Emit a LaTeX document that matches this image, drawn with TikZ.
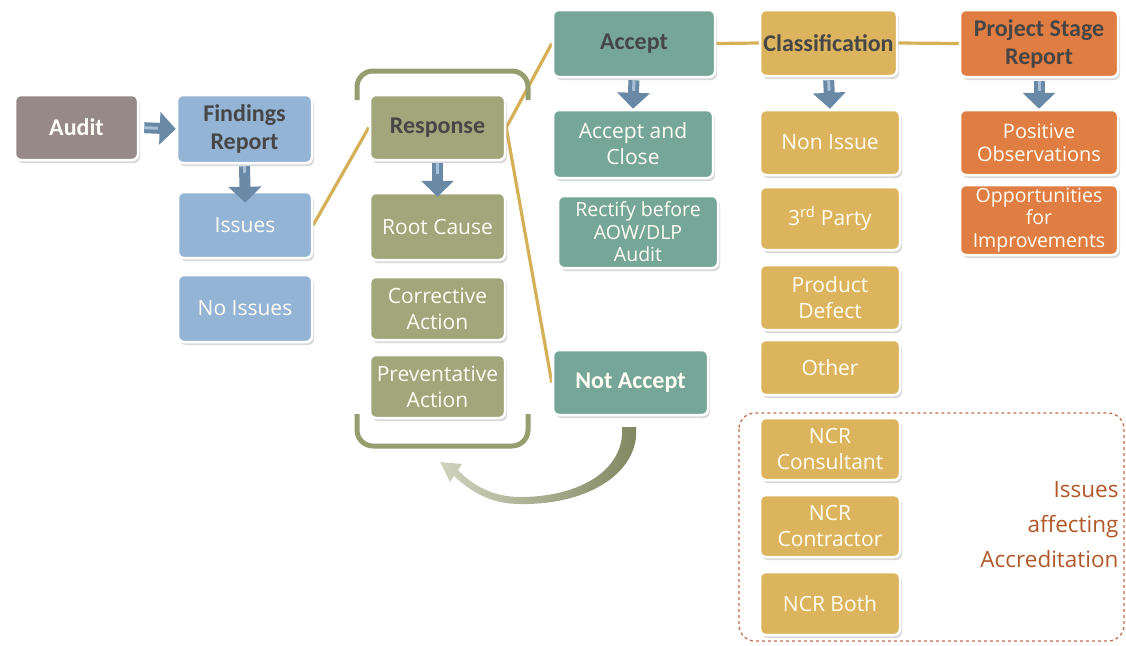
\documentclass[tikz,border=0pt]{standalone}
\usepackage{fontspec}
\setmainfont{Open Sans}
\newfontfamily\headfont{Carlito}
\usetikzlibrary{arrows.meta,shadows,positioning,backgrounds}
\definecolor{auditgray}{RGB}{150,137,135}
\definecolor{findblue}{RGB}{148,180,214}
\definecolor{respolive}{RGB}{161,166,123}
\definecolor{accteal}{RGB}{118,166,152}
\definecolor{classgold}{RGB}{221,180,94}
\definecolor{stageorange}{RGB}{224,125,66}
\definecolor{arrowblue}{RGB}{105,137,167}
\definecolor{arrowlight}{RGB}{168,192,216}
\definecolor{linegold}{RGB}{214,176,86}
\definecolor{bracketolive}{RGB}{150,158,112}
\definecolor{frameorange}{RGB}{196,110,76}
\definecolor{noteorange}{RGB}{178,88,40}
\definecolor{headgray}{RGB}{70,70,70}
\colorlet{boxtext}{white!96!yellow}
\tikzset{
  box/.style={draw=white, line width=2.5pt, rounded corners=6pt, align=center,
    inner sep=2pt, text=boxtext,
    font=\fontsize{21}{26}\selectfont,
    drop shadow={shadow xshift=2pt, shadow yshift=-3pt, opacity=0.3}},
  boxsize/.style 2 args={minimum width=#1pt, minimum height=#2pt},
  head/.style={font=\headfont\bfseries\fontsize{24}{28}\selectfont, text=headgray},
  small/.style={font=\fontsize{19.5}{22.5}\selectfont},
  bluebox/.style={box, fill=findblue},
  olivebox/.style={box, fill=respolive},
  tealbox/.style={box, fill=accteal},
  goldbox/.style={box, fill=classgold},
  orangebox/.style={box, fill=stageorange},
  goldline/.style={draw=linegold, line width=3.2pt},
  blockarrow/.style={draw=arrowblue, line width=11pt,
    -{Triangle[width=32pt,length=16pt]},
    postaction={draw=arrowlight, line width=3pt, -, shorten >=18pt}},
  bracket/.style={draw=bracketolive, line width=5pt, rounded corners=16pt}
}

\begin{document}
\begin{tikzpicture}[x=1pt,y=-1pt]
  \useasboundingbox (0,0) rectangle (1126,645);
  % brackets round the response column
  \draw[bracket] (357,100) -- (357,71) -- (528,71) -- (528,100);
  \draw[bracket] (357,414) -- (357,446) -- (528,446) -- (528,414);
  % frame for the accreditation issues
  \draw[frameorange, dashed, line width=1.3pt, rounded corners=16pt] (739,413) rectangle (1124,641);

  % first columns
  \node[box, fill=auditgray, head, text=boxtext, boxsize={123}{65}] (audit) at (76.5,127.5) {Audit};
  \node[bluebox, head, boxsize={135}{68}] (findings) at (244.5,129) {Findings\\Report};
  \node[bluebox, boxsize={134}{66}] (issues) at (245,225) {Issues};
  \node[bluebox, boxsize={134}{67}] (noissues) at (245,308.5) {No Issues};

  \node[olivebox, head, boxsize={135}{65}] (response) at (437.5,127.5) {Response};
  \node[olivebox, boxsize={135}{67}] (rootcause) at (437.5,226.5) {Root Cause};
  \node[olivebox, boxsize={135}{63}] (corrective) at (437.5,308.5) {Corrective\\Action};
  \node[olivebox, boxsize={135}{63}] (preventative) at (437.5,386.5) {Preventative\\Action};

  \node[tealbox, head, boxsize={162}{67}] (accept) at (634,43.5) {Accept};
  \node[tealbox, boxsize={160}{68}] (acceptclose) at (633,144) {Accept and\\Close};
  \node[tealbox, small, boxsize={160}{72}] (rectify) at (638,232) {Rectify before\\AOW/DLP\\Audit};
  \node[tealbox, head, text=boxtext, boxsize={155}{65}] (notaccept) at (630.5,382.5) {Not Accept};

  % classification column
  \node[goldbox, head, boxsize={137}{66}] (classification) at (828.5,43) {Classification};
  \node[goldbox, boxsize={140}{65}] (nonissue) at (830,142.5) {Non Issue};
  \node[goldbox, boxsize={140}{63}] (thirdparty) at (830,218.5) {3\textsuperscript{rd} Party};
  \node[goldbox, boxsize={140}{65}] (defect) at (830,297.5) {Product\\Defect};
  \node[goldbox, boxsize={140}{55}] (other) at (830,367.5) {Other};
  \node[goldbox, boxsize={140}{62}] (ncrcons) at (830,449) {NCR\\Consultant};
  \node[goldbox, boxsize={140}{62}] (ncrcontr) at (830,526) {NCR\\Contractor};
  \node[goldbox, boxsize={140}{63}] (ncrboth) at (830,603.5) {NCR Both};
  \node[align=right, anchor=east, text=noteorange, font=\fontsize{22.5}{35}\selectfont] (accnote) at (1122,525) {Issues\\affecting\\Accreditation};

  \node[orangebox, head, boxsize={158}{67}] (stage) at (1039,43.5) {Project Stage\\Report};
  \node[orangebox, font=\fontsize{20}{23}\selectfont, boxsize={158}{65}] (positive) at (1039,142.5) {Positive\\Observations};
  \node[orangebox, small, boxsize={158}{70}] (improve) at (1039,220) {Opportunities\\for\\Improvements};

  % gold links
  \begin{scope}[on background layer]
    \draw[goldline] (issues.east) -- (response.west);
    \draw[goldline] (response.east) -- (accept.west);
    \draw[goldline] (response.east) -- (notaccept.west);
    \draw[goldline] (accept.east) -- (classification.west);
    \draw[goldline] (classification.east) -- (stage.west);
  \end{scope}

  % block arrows
  \draw[blockarrow, shorten <=5pt] (audit.east) -- (findings.west);
  \draw[blockarrow, shorten <=2pt, shorten >=-12pt] (findings.south) -- (issues.north);
  \draw[blockarrow, shorten <=2pt, shorten >=-5pt] (response.south) -- (rootcause.north);
  \draw[blockarrow, shorten <=2pt] (accept.south) -- (acceptclose.north);
  \draw[blockarrow, shorten <=3pt] (classification.south) -- (nonissue.north);
  \draw[blockarrow, shorten <=3pt] (stage.south) -- (positive.north);

  % loop back from not accept to the response column
  \shade[left color=bracketolive!45, right color=bracketolive!85!black]
    (622,427) .. controls (625,470) and (580,497) .. (520,497)
    .. controls (495,497) and (474,487) .. (458,470)
    -- (462,464) -- (440,462) -- (450,482) -- (454,476)
    .. controls (474,495) and (495,504) .. (520,504)
    .. controls (592,505) and (640,470) .. (636,427) -- cycle;
\end{tikzpicture}
\end{document}
